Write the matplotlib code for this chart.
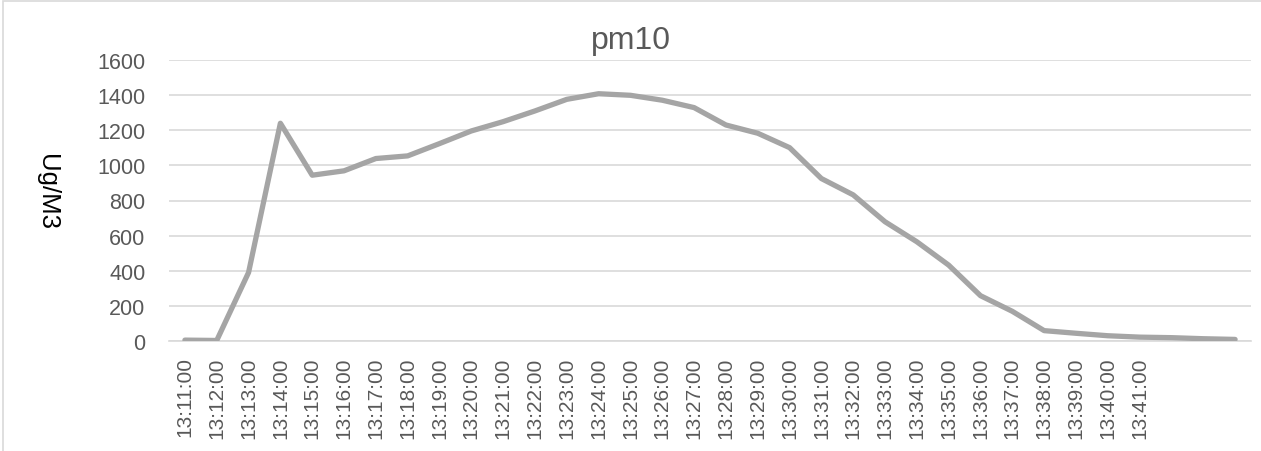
import matplotlib
matplotlib.use('Agg')
import matplotlib.pyplot as plt
from matplotlib.patches import Rectangle

# pm10 readings, one per minute (last three minutes have no label on the axis)
times = ['13:11:00', '13:12:00', '13:13:00', '13:14:00', '13:15:00', '13:16:00',
         '13:17:00', '13:18:00', '13:19:00', '13:20:00', '13:21:00', '13:22:00',
         '13:23:00', '13:24:00', '13:25:00', '13:26:00', '13:27:00', '13:28:00',
         '13:29:00', '13:30:00', '13:31:00', '13:32:00', '13:33:00', '13:34:00',
         '13:35:00', '13:36:00', '13:37:00', '13:38:00', '13:39:00', '13:40:00',
         '13:41:00', '', '', '']
pm10 = [5, 3, 390, 1240, 944, 969, 1039, 1054, 1124, 1196, 1249, 1310,
        1376, 1408, 1399, 1371, 1329, 1230, 1183, 1101, 925, 832, 679, 565,
        432, 258, 169, 59, 44, 30, 22, 19, 13, 9]
yticks = [0, 200, 400, 600, 800, 1000, 1200, 1400, 1600]

plt.rcParams['font.family'] = ['Liberation Sans', 'DejaVu Sans']
txt = '#595959'
grid = '#D9D9D9'

W, H = 1261, 452
fig = plt.figure(figsize=(W / 100, H / 100), dpi=100)
ax = fig.add_axes([169 / W, 1 - 342 / H, (1251 - 169) / W, (342 - 61) / H])

x = list(range(len(pm10)))
ax.plot(x, pm10, color='#A5A5A5', linewidth=3.8, solid_capstyle='round',
        solid_joinstyle='round', zorder=3)

ax.set_xlim(-0.5, len(pm10) - 0.5)
ax.set_ylim(0, 1600)
ax.set_yticks(yticks)
ax.set_yticklabels([str(v) for v in yticks], fontsize=15.5, color=txt)
ax.set_xticks(x)
ax.set_xticklabels(times, rotation=90, fontsize=15, color=txt, va='top')
ax.tick_params(axis='y', length=0, pad=17)
ax.tick_params(axis='x', length=0, pad=11)
ax.grid(axis='y', color=grid, linewidth=1.2)
ax.set_axisbelow(True)
for s in ['top', 'right', 'left']:
    ax.spines[s].set_visible(False)
ax.spines['bottom'].set_color(grid)
ax.spines['bottom'].set_linewidth(1.2)

fig.text(0.5, 1 - 41 / H, 'pm10', ha='center', va='center', fontsize=23, color=txt)
fig.text(47 / W, 1 - 192 / H, 'Ug/M3', ha='center', va='center', rotation=-90,
         fontsize=18.5, color='black')

# chart border (only top and left edges fall inside the picture)
fig.patches.append(Rectangle((3 / W, -0.1), 1.2, 1 - 2 / H + 0.1,
                             transform=fig.transFigure, fill=False,
                             edgecolor=grid, linewidth=1.2))

fig.savefig('out.png', dpi=100)
